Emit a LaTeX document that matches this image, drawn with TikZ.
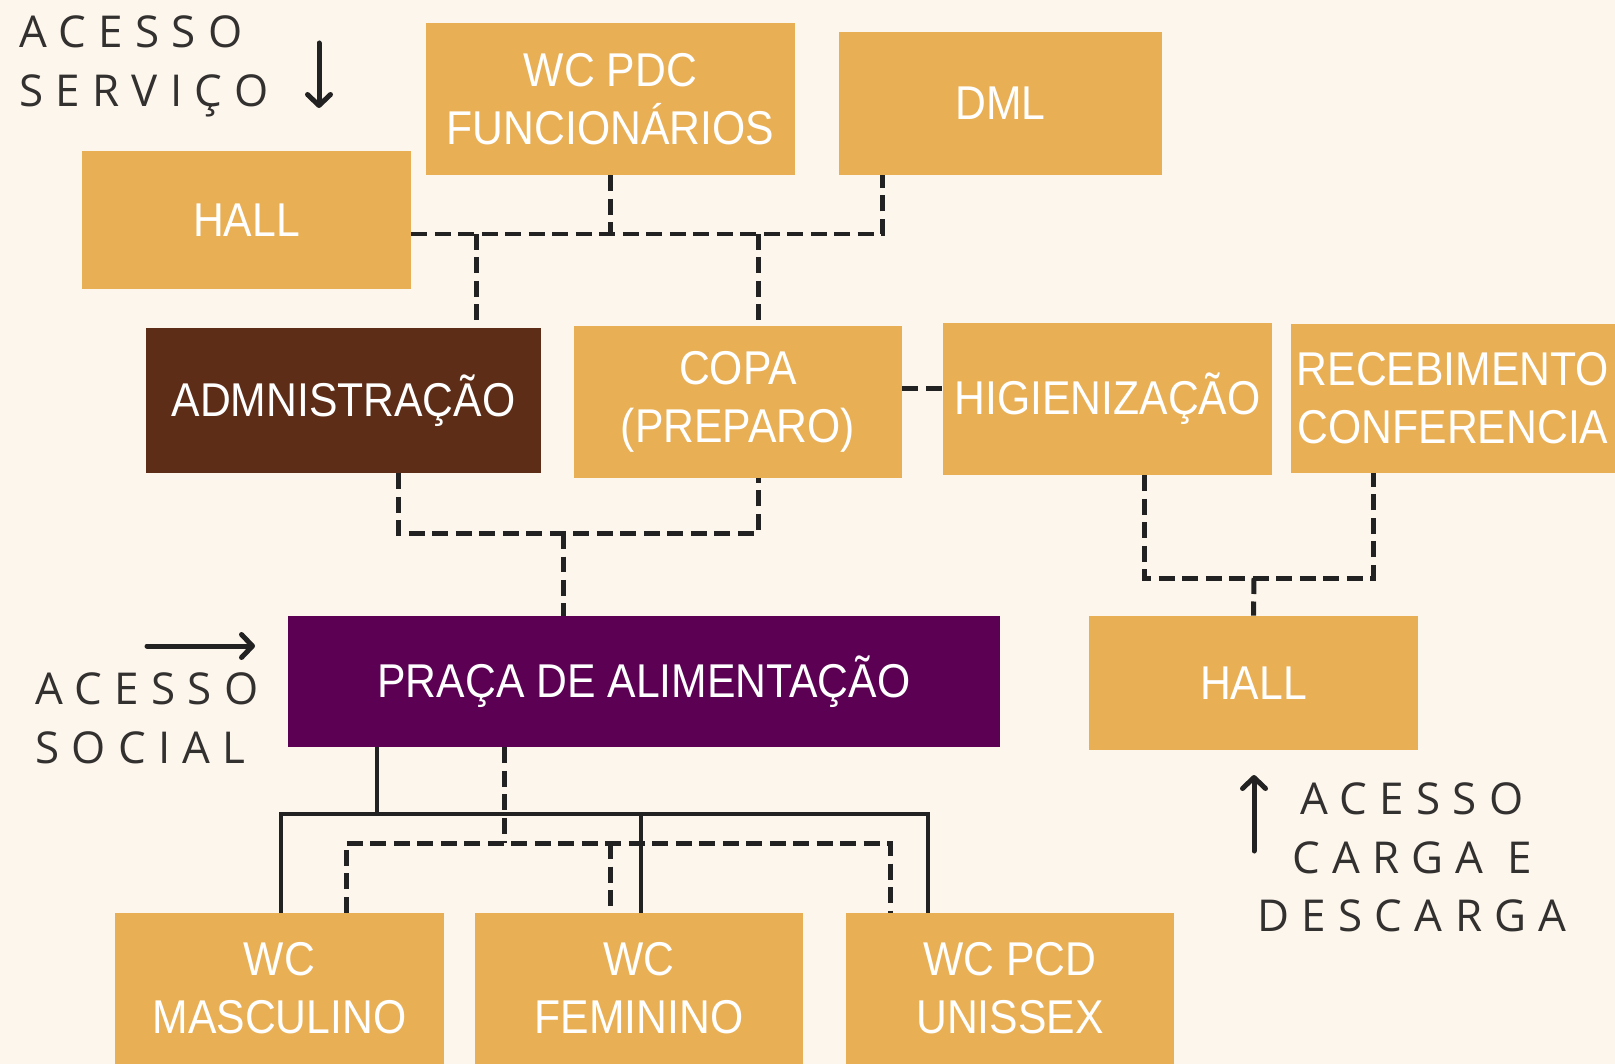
\documentclass[tikz,border=0pt]{standalone}
\usepackage{fontspec}
\setmainfont{Liberation Sans}
\newfontfamily\salafont[FakeStretch=0.9]{Liberation Sans}
\newfontfamily\acessofont[LetterSpace=28]{Open Sans}
\usetikzlibrary{arrows.meta}
\definecolor{fundo}{HTML}{FDF6EC}
\definecolor{amarelo}{HTML}{E9AF54}
\definecolor{marrom}{HTML}{5E2D18}
\definecolor{roxo}{HTML}{5C0054}
\definecolor{linha}{HTML}{222222}
\definecolor{texto}{HTML}{333030}
\tikzstyle{sala}      = [rectangle, inner sep=0pt, text centered, align=center, text=white, font=\salafont\fontsize{27}{33}\selectfont]
\tikzstyle{salaam}    = [sala, fill=amarelo]
\tikzstyle{ligacao}   = [line width=0.1cm, draw=linha, dash pattern=on 0.32cm off 0.15cm]
\tikzstyle{cheia}     = [line width=0.09cm, draw=linha]
\tikzstyle{seta}      = [line width=0.1cm, draw=linha, line cap=round, -{Straight Barb[length=0.22cm, width=0.46cm, round]}]
\tikzstyle{acesso}    = [inner sep=0pt, align=left, text=texto, font=\acessofont\fontsize{25}{33.5}\selectfont]

\begin{document}
\begin{tikzpicture}[x=0.02cm, y=-0.02cm]
            % fundo
            \fill[fundo] (0,0) rectangle (1615,1064);
            \useasboundingbox (0,0) rectangle (1615,1064);

            % 1. bloco de serviço
            \node (hallS) [salaam, minimum width=6.58cm, minimum height=2.76cm] at (246.5,220) {HALL};
            \node (wcpdc) [salaam, minimum width=7.38cm, minimum height=3.04cm] at (610.5,99) {WC PDC\\FUNCIONÁRIOS};
            \node (dml) [salaam, minimum width=6.46cm, minimum height=2.86cm] at (1000.5,103.5) {DML};
            % 2. administração e copa
            \node (adm) [sala, fill=marrom, minimum width=7.90cm, minimum height=2.90cm] at (343.5,400.5) {ADMNISTRAÇÃO};
            \node (copa) [salaam, minimum width=6.56cm, minimum height=3.04cm] at (738,402) {COPA\\(PREPARO)};
            \node (higi) [salaam, minimum width=6.58cm, minimum height=3.04cm] at (1107.5,399) {HIGIENIZAÇÃO};
            \node (receb) [salaam, minimum width=6.48cm, minimum height=2.98cm] at (1453,398.5) {RECEBIMENTO\\CONFERENCIA};
            % 3. praça e hall de carga
            \node (praca) [sala, fill=roxo, minimum width=14.24cm, minimum height=2.62cm] at (644,681.5) {PRAÇA DE ALIMENTAÇÃO};
            \node (hallC) [salaam, minimum width=6.58cm, minimum height=2.68cm] at (1253.5,683) {HALL};
            % 4. sanitários
            \node (wcm) [salaam, minimum width=6.58cm, minimum height=3.02cm] at (279.5,988.5) {WC\\MASCULINO};
            \node (wcf) [salaam, minimum width=6.56cm, minimum height=3.02cm] at (639,988.5) {WC\\FEMININO};
            \node (wcp) [salaam, minimum width=6.56cm, minimum height=3.02cm] at (1010,988.5) {WC PCD\\UNISSEX};

            % acessos
            \node (acServ) [acesso, anchor=north west] at (19,15) {ACESSO\\SERVIÇO};
            \node (acSocial) [acesso, anchor=north west] at (35,672) {ACESSO\\SOCIAL};
            \node (acCarga) [acesso, align=center, anchor=north] at (1412,782) {ACESSO\\CARGA E\\DESCARGA};

            % pontos das barras
            \coordinate (barraS) at (882,234);
            \coordinate (ramoAdm) at (476,234);
            \coordinate (ramoCopa) at (758,234);
            \coordinate (ramoA1) at (398,533);
            \coordinate (ramoA2) at (758,533);
            \coordinate (juncA) at (563,533);
            \coordinate (meioCH) at (920,388);
            \coordinate (ramoB1) at (1144,578);
            \coordinate (ramoB2) at (1373,578);
            \coordinate (juncB) at (1254,578);
            \coordinate (juncS) at (377,814);
            \coordinate (cheiaE) at (281,814);
            \coordinate (cheiaF) at (641,814);
            \coordinate (cheiaD) at (928,814);
            \coordinate (juncT) at (504,843);
            \coordinate (tracE) at (346,843);
            \coordinate (tracF) at (610,843);
            \coordinate (tracD) at (890,843);

            % ligações tracejadas do serviço
            \draw [ligacao] (hallS.east |- barraS) -- (barraS) -- (barraS |- dml.south);
            \draw [ligacao] (wcpdc.south) -- (wcpdc.south |- barraS);
            \draw [ligacao] (ramoAdm) -- (ramoAdm |- adm.north);
            \draw [ligacao] (ramoCopa) -- (ramoCopa |- copa.north);
            \draw [ligacao] (adm.south -| ramoA1) -- (ramoA1) -- (ramoA2) -- (copa.south -| ramoA2);
            \draw [ligacao] (juncA) -- (juncA |- praca.north);
            \draw [ligacao] (copa.east |- meioCH) -- (higi.west |- meioCH);
            \draw [ligacao] (higi.south -| ramoB1) -- (ramoB1) -- (ramoB2) -- (receb.south -| ramoB2);
            \draw [ligacao] (juncB) -- (hallC.north);

            % ligações da praça aos sanitários
            \draw [cheia] (praca.south -| juncS) -- (juncS);
            \draw [cheia] (cheiaE |- wcm.north) -- (cheiaE) -- (cheiaD) -- (cheiaD |- wcp.north);
            \draw [cheia] (cheiaF) -- (cheiaF |- wcf.north);
            \draw [ligacao] (praca.south -| juncT) -- (juncT);
            \draw [ligacao] (tracE |- wcm.north) -- (tracE) -- (tracD) -- (tracD |- wcp.north);
            \draw [ligacao] (tracF) -- (tracF |- wcf.north);

            % setas de acesso
            \coordinate (setaS1) at (319,43);
            \coordinate (setaS2) at (319,108);
            \coordinate (setaL1) at (147,646);
            \coordinate (setaL2) at (255,646);
            \coordinate (setaC1) at (1254,851);
            \coordinate (setaC2) at (1254,775);
            \draw [seta] (setaS1) -- (setaS2);
            \draw [seta] (setaL1) -- (setaL2);
            \draw [seta] (setaC1) -- (setaC2);

        \end{tikzpicture}
\end{document}
